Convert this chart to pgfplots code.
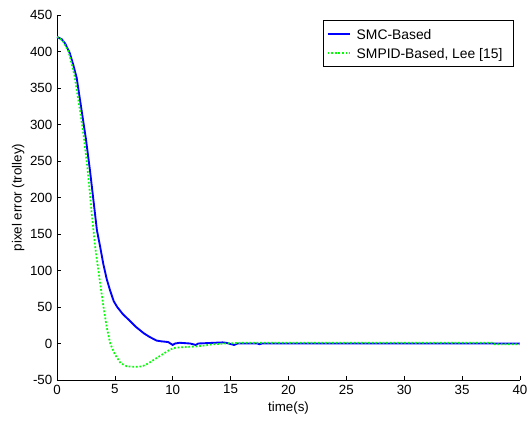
\documentclass[border=0pt]{standalone}
\usepackage{pgfplots}
\pgfplotsset{compat=1.18}
\usepackage{fontspec}
\setmainfont{Liberation Sans}
\begin{document}
\begin{tikzpicture}
\begin{axis}[
    scale only axis,
    width=347.25pt, height=273.75pt,
    xmin=0, xmax=40, ymin=-50, ymax=450,
    xtick distance=5, ytick distance=50,
    axis x line*=bottom, axis y line*=left,
    tick align=inside,
    major tick length=3pt,
    tick style={black, line width=0.5pt},
    axis line style={black, line width=0.5pt},
    font=\fontsize{10}{11}\selectfont,
    /pgf/number format/assume math mode=true,
    xlabel={time(s)},
    ylabel={pixel error (trolley)},
    xlabel style={at={(axis description cs:0.5,-0.077)}, anchor=center},
    ylabel style={at={(axis description cs:-0.084,0.5)}, anchor=center},
    legend cell align=left,
    legend style={at={(rel axis cs:0.987,0.985)}, anchor=north east,
        draw=black, font=\fontsize{10.4}{11}\selectfont,
        inner sep=2.5pt, row sep=-1pt},
]
% SMC-Based
\addplot[blue, line width=1.4pt] coordinates {
(0,420) (0.4,417) (0.7,411) (1.1,398) (1.4,382) (1.7,364) (2.1,322)
(2.5,280) (2.85,237) (3.15,196) (3.45,155) (3.7,135) (4.0,109)
(4.3,88) (4.6,72) (4.9,58) (5.2,50) (5.7,40) (6.3,31) (6.8,23)
(7.5,14) (8.0,9) (8.6,4) (9.0,3) (9.6,2) (10.0,-2) (10.2,0) (10.6,1)
(11.5,0) (12.0,-2) (12.2,0) (14.3,1.5) (14.6,1) (15.3,-2) (15.6,0)
(17.3,0) (17.5,-1) (17.7,0) (40,0)
};
% SMPID-Based, Lee [15]
\addplot[green, line width=1.3pt, dash pattern=on 1.3pt off 1.4pt] coordinates {
(0,420) (0.5,415) (1.0,400) (1.5,368) (2.0,318) (2.3,285) (2.6,245)
(2.85,205) (3.0,178) (3.3,132) (3.7,86) (4.0,52) (4.3,22) (4.6,0)
(5.0,-15) (5.5,-27) (6.0,-31) (6.5,-32) (7.0,-32) (7.4,-31) (7.8,-28)
(8.3,-23) (8.8,-18) (9.3,-13) (9.8,-8) (10.3,-5.5) (11,-5) (12,-4)
(12.6,-3) (13.5,-1) (14.5,0) (16,1) (20,1) (25,1) (30,1) (35,1)
(37.6,1) (37.8,-1) (40,-1)
};
\legend{\rule[-3pt]{0pt}{12.5pt}\hspace*{2pt}SMC-Based,
  {\rule[-3pt]{0pt}{12.5pt}\hspace*{2pt}SMPID-Based, Lee [15]\hspace*{4pt}}}
\end{axis}
\pgfresetboundingbox
\path (-42.75pt,-31.5pt) rectangle (354pt,285pt);
\end{tikzpicture}
\end{document}
